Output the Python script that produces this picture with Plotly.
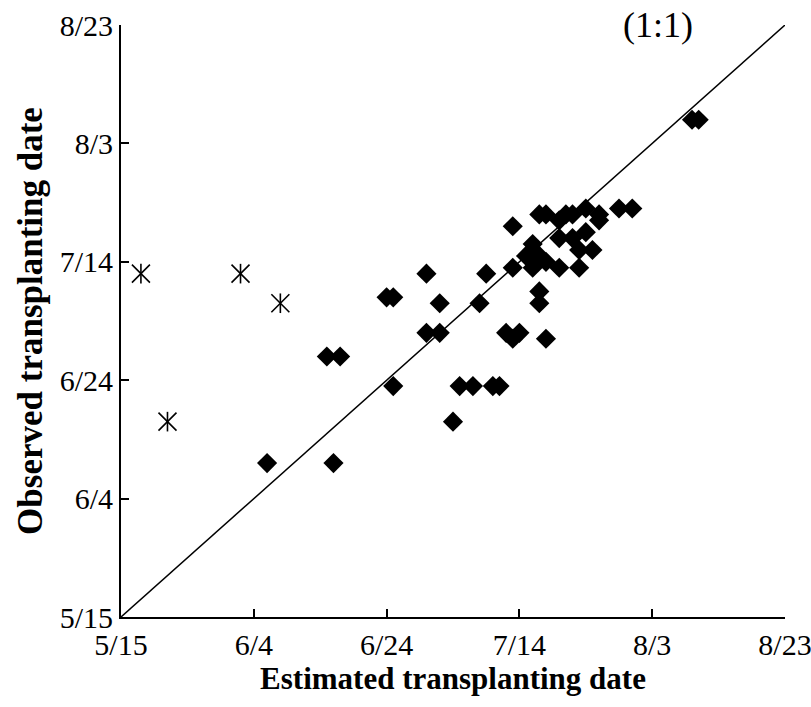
import plotly.graph_objects as go
from datetime import datetime

# Tick labels (M/D)
tick_labels = ["5/15", "6/4", "6/24", "7/14", "8/3", "8/23"]

# Diamond series: estimated (x) vs observed (y) transplanting dates
est_dates = ["6/6", "6/16", "6/15", "6/17", "6/25", "6/24", "6/25", "6/30", "7/2", "6/30",
             "7/2", "7/5", "7/7", "7/10", "7/11", "7/4", "7/9", "7/8", "7/12", "7/14",
             "7/13", "7/18", "7/13", "7/13", "7/17", "7/18", "7/21", "7/22", "7/24", "7/26",
             "7/29", "7/31", "7/24", "7/20", "7/16", "7/17", "7/15", "7/20", "7/23", "7/25",
             "7/23", "7/22", "7/17", "7/17", "7/16", "7/18", "7/20", "7/26", "8/9", "8/10"]
obs_dates = ["6/10", "6/10", "6/28", "6/28", "6/23", "7/8", "7/8", "7/12", "7/7", "7/2",
             "7/2", "6/23", "6/23", "6/23", "6/23", "6/17", "7/12", "7/7", "7/2", "7/2",
             "7/1", "7/1", "7/13", "7/20", "7/22", "7/22", "7/22", "7/22", "7/23", "7/22",
             "7/23", "7/23", "7/19", "7/21", "7/17", "7/15", "7/15", "7/13", "7/13", "7/16",
             "7/16", "7/18", "7/9", "7/7", "7/13", "7/14", "7/18", "7/21", "8/7", "8/7"]

# Asterisk series (outliers)
est_out = ["5/18", "6/2", "6/8", "5/22"]
obs_out = ["7/12", "7/12", "7/7", "6/17"]


def to_dt(md):
    m, d = md.split("/")
    return datetime(2000, int(m), int(d))


ticks = [to_dt(t) for t in tick_labels]
rng = [ticks[0], ticks[-1]]

FONT = "Liberation Serif, Times New Roman, serif"

fig = go.Figure()

# 1:1 line
fig.add_trace(go.Scatter(x=rng, y=rng, mode="lines",
                         line=dict(color="black", width=1.5),
                         hoverinfo="skip", showlegend=False))

fig.add_trace(go.Scatter(x=[to_dt(v) for v in est_dates], y=[to_dt(v) for v in obs_dates],
                         mode="markers",
                         marker=dict(symbol="diamond", size=15.5, color="black", line=dict(width=0)),
                         showlegend=False))

# asterisk = X + vertical bar
xo = [to_dt(v) for v in est_out]
yo = [to_dt(v) for v in obs_out]
fig.add_trace(go.Scatter(x=xo, y=yo, mode="markers",
                         marker=dict(symbol="x-thin-open", size=18, color="black",
                                     line=dict(width=1.6, color="black")),
                         showlegend=False))
fig.add_trace(go.Scatter(x=xo, y=yo, mode="markers",
                         marker=dict(symbol="line-ns-open", size=14, color="black",
                                     line=dict(width=1.6, color="black")),
                         showlegend=False))

axis_common = dict(
    range=rng, tickvals=ticks, ticktext=tick_labels,
    showgrid=False, zeroline=False, automargin=False, ticklabeloverflow="allow",
    showline=True, linecolor="black", linewidth=2,
    ticks="inside", ticklen=8, tickwidth=2, tickcolor="black",
    tickfont=dict(family=FONT, size=30, color="black"),
)

fig.update_xaxes(**axis_common,
                 title=dict(text="<b>Estimated transplanting date</b>",
                            font=dict(family=FONT, size=31, color="black"), standoff=6))
fig.update_yaxes(**axis_common,
                 title=dict(text="<b>Observed transplanting date</b>",
                            font=dict(family=FONT, size=35, color="black"), standoff=6))

fig.add_annotation(text="(1:1)", xref="paper", yref="paper", x=0.809, y=1.0,
                   xanchor="center", yanchor="middle", showarrow=False,
                   font=dict(family=FONT, size=36, color="black"))

fig.update_layout(width=811, height=707,
                  margin=dict(l=121, r=26, t=25, b=90),
                  plot_bgcolor="white", paper_bgcolor="white")

fig.write_html("out.html")
